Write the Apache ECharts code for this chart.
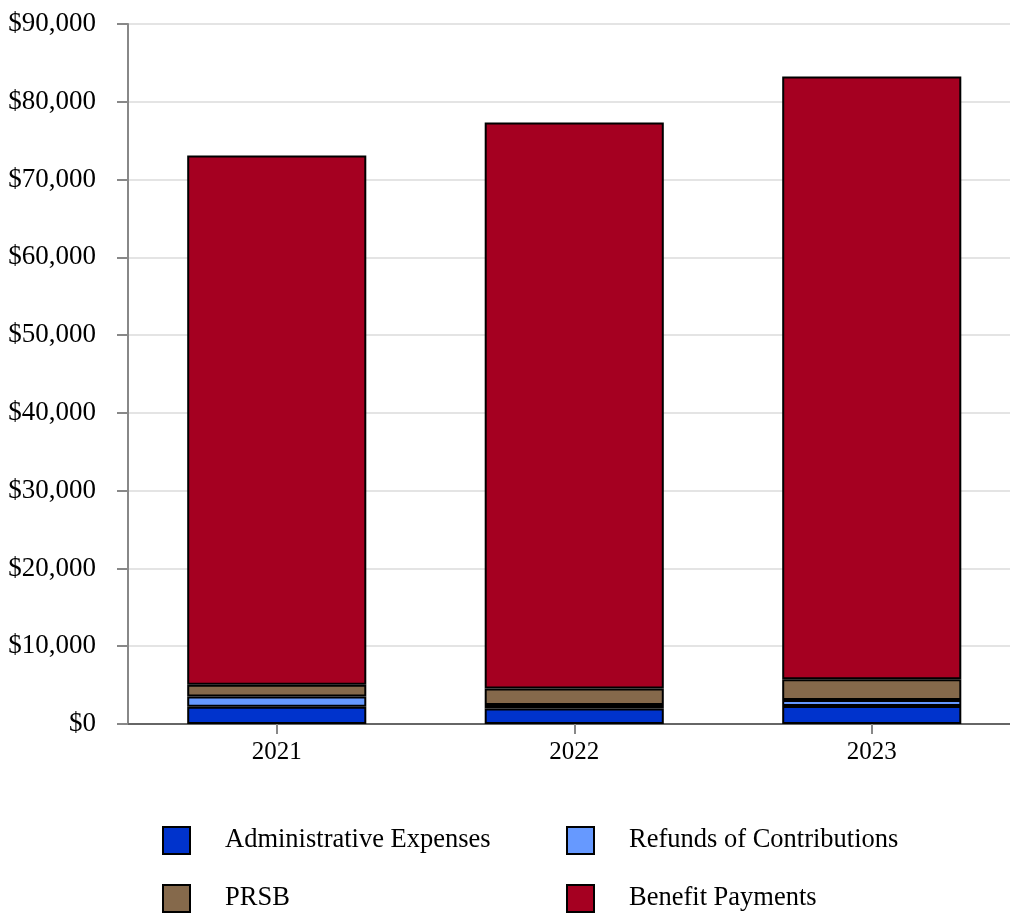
<!DOCTYPE html>
<html>
<head>
<meta charset="utf-8">
<script src="https://cdn.jsdelivr.net/npm/echarts@6/dist/echarts.min.js"></script>
<style>html,body{margin:0;padding:0;background:#fff;overflow:hidden}#c{width:1030px;height:913px}</style>
</head>
<body>
<div id="c"></div>
<script>
var categories = ['2021', '2022', '2023'];
var adminExpenses = [2230, 2000, 2300];
var refunds = [1290, 430, 800];
var prsb = [1540, 2140, 2650];
var benefitPayments = [68040, 72770, 77500];
var seriesNames = ['Administrative Expenses', 'Refunds of Contributions', 'PRSB', 'Benefit Payments'];
var colors = ['#0033cc', '#6699ff', '#85694b', '#a50021'];

var font = 'Liberation Serif';
var chart = echarts.init(document.getElementById('c'));
var dataSets = [adminExpenses, refunds, prsb, benefitPayments];
var series = dataSets.map(function (d, i) {
  return {
    name: seriesNames[i], type: 'bar', stack: 'total', data: d,
    barWidth: '60.2%',
    itemStyle: { color: colors[i], borderColor: '#000', borderWidth: 2 },
    emphasis: { disabled: true }
  };
});
function legend(name, left, top) {
  return {
    data: [name], left: left, top: top, itemWidth: 27, itemHeight: 27,
    icon: 'rect', padding: 0,
    textStyle: { fontFamily: font, fontSize: 26.5, color: '#000', padding: [0, 0, 0, 30] }
  };
}
chart.setOption({
  animation: false,
  color: colors,
  grid: { left: 128, right: 9.5, top: 24, bottom: 189, containLabel: false },
  legend: [
    legend(seriesNames[0], 162, 826),
    legend(seriesNames[1], 566, 826),
    legend(seriesNames[2], 162, 884),
    legend(seriesNames[3], 566, 884)
  ],
  xAxis: {
    type: 'category', data: categories,
    axisLine: { lineStyle: { color: '#666', width: 2 } },
    axisTick: { show: true, alignWithLabel: true, length: 10, lineStyle: { color: '#888', width: 2 } },
    axisLabel: { fontFamily: font, fontSize: 25, color: '#000', margin: 16 }
  },
  yAxis: {
    type: 'value', min: 0, max: 90000, interval: 10000,
    axisLine: { show: true, lineStyle: { color: '#888', width: 2 } },
    axisTick: { show: true, length: 11, lineStyle: { color: '#888', width: 2 } },
    splitLine: { lineStyle: { color: '#e4e4e4', width: 2 } },
    axisLabel: {
      fontFamily: font, fontSize: 27, color: '#000', margin: 32,
      formatter: function (v) { return '$' + v.toLocaleString('en-US'); }
    }
  },
  series: series
});
</script>
</body>
</html>
